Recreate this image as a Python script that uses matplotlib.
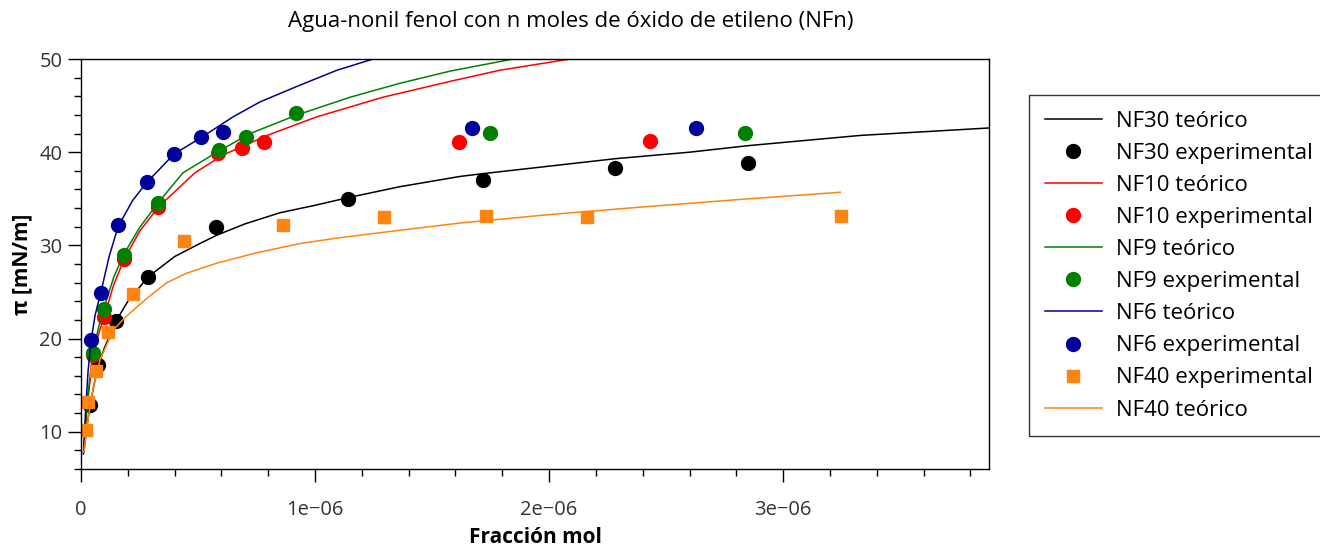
import matplotlib
matplotlib.use("Agg")
import matplotlib.pyplot as plt
from matplotlib.ticker import MultipleLocator, FuncFormatter

plt.rcParams['font.family'] = ['Open Sans', 'DejaVu Sans']

# fraccion mol en unidades de 1e-6
nf30_teo_x = [0.012, 0.025, 0.038, 0.055, 0.075, 0.1, 0.15, 0.2, 0.286, 0.4, 0.5, 0.581, 0.7, 0.85,
              1.0, 1.137, 1.363, 1.62, 1.718, 2.0, 2.282, 2.6, 2.85, 3.33, 3.88]
nf30_teo_y = [7.8, 10.5, 12.8, 15.0, 17.2, 19.0, 21.9, 24.0, 26.6, 28.8, 30.1, 31.1, 32.3, 33.5,
              34.3, 35.1, 36.3, 37.4, 37.7, 38.5, 39.3, 40.0, 40.7, 41.8, 42.6]
nf30_exp_x = [0.038, 0.073, 0.15, 0.286, 0.577, 1.141, 1.718, 2.282, 2.85]
nf30_exp_y = [12.9, 17.2, 21.9, 26.6, 32.0, 35.0, 37.0, 38.3, 38.8]

nf10_teo_x = [0.012, 0.025, 0.05, 0.075, 0.098, 0.14, 0.184, 0.25, 0.33, 0.487, 0.607, 0.795,
              1.008, 1.29, 1.577, 1.79, 2.09]
nf10_teo_y = [8.0, 12.5, 18.0, 20.5, 22.3, 25.8, 28.5, 31.5, 34.1, 37.8, 39.7, 41.8,
              43.8, 45.9, 47.6, 48.8, 50.0]
nf10_exp_x = [0.05, 0.098, 0.184, 0.33, 0.586, 0.687, 0.78, 1.615, 2.432]
nf10_exp_y = [18.2, 22.3, 28.5, 34.1, 39.9, 40.5, 41.1, 41.1, 41.2]

nf9_teo_x = [0.012, 0.025, 0.05, 0.075, 0.098, 0.14, 0.184, 0.25, 0.33, 0.436, 0.581, 0.722,
             0.923, 1.15, 1.363, 1.577, 1.846]
nf9_teo_y = [8.2, 13.0, 18.5, 21.2, 23.3, 26.6, 29.1, 31.9, 34.6, 37.8, 40.0, 42.0,
             44.0, 45.9, 47.4, 48.7, 50.0]
nf9_exp_x = [0.05, 0.098, 0.184, 0.33, 0.59, 0.705, 0.919, 1.748, 2.838]
nf9_exp_y = [18.4, 23.2, 29.0, 34.5, 40.2, 41.6, 44.2, 42.1, 42.1]

nf6_teo_x = [0.01, 0.02, 0.03, 0.043, 0.06, 0.085, 0.12, 0.158, 0.22, 0.282, 0.325, 0.397,
             0.509, 0.65, 0.765, 0.936, 1.094, 1.248]
nf6_teo_y = [7.6, 12.5, 16.5, 19.8, 22.5, 25.0, 28.8, 32.0, 34.8, 36.8, 37.9, 39.8,
             41.5, 43.8, 45.4, 47.2, 48.8, 50.0]
nf6_exp_x = [0.043, 0.085, 0.158, 0.282, 0.397, 0.513, 0.607, 1.671, 2.628]
nf6_exp_y = [19.8, 24.9, 32.2, 36.8, 39.8, 41.6, 42.2, 42.6, 42.6]

nf40_exp_x = [0.02, 0.03, 0.064, 0.115, 0.222, 0.44, 0.863, 1.296, 1.731, 2.162, 3.248]
nf40_exp_y = [10.2, 13.2, 16.5, 20.7, 24.8, 30.5, 32.2, 33.0, 33.1, 33.0, 33.1]
nf40_teo_x = [0.012, 0.025, 0.047, 0.081, 0.137, 0.19, 0.239, 0.3, 0.367, 0.45, 0.581, 0.75,
              0.936, 1.1, 1.29, 1.62, 2.0, 2.389, 2.8, 3.244]
nf40_teo_y = [7.8, 10.5, 14.1, 17.7, 20.9, 22.3, 23.4, 24.7, 26.0, 27.0, 28.1, 29.2,
              30.2, 30.8, 31.4, 32.4, 33.3, 34.1, 34.9, 35.7]

E = 1e-6
fig = plt.figure(figsize=(13.2, 5.5), dpi=100)
ax = fig.add_axes([0.0614, 0.1473, 0.6879, 0.7454])

ms = 10
lw = 1.1
ax.plot([x * E for x in nf30_teo_x], nf30_teo_y, color='black', lw=lw, label='NF30 teórico')
ax.plot([x * E for x in nf30_exp_x], nf30_exp_y, 'o', color='black', ms=ms, label='NF30 experimental')
ax.plot([x * E for x in nf10_teo_x], nf10_teo_y, color='#ff0000', lw=lw, label='NF10 teórico')
ax.plot([x * E for x in nf10_exp_x], nf10_exp_y, 'o', color='#ff0000', ms=ms, label='NF10 experimental')
ax.plot([x * E for x in nf9_teo_x], nf9_teo_y, color='#008000', lw=lw, label='NF9 teórico')
ax.plot([x * E for x in nf9_exp_x], nf9_exp_y, 'o', color='#008000', ms=ms, label='NF9 experimental')
ax.plot([x * E for x in nf6_teo_x], nf6_teo_y, color='#00008f', lw=lw, label='NF6 teórico')
ax.plot([x * E for x in nf6_exp_x], nf6_exp_y, 'o', color='#00009a', ms=ms, label='NF6 experimental')
ax.plot([x * E for x in nf40_exp_x], nf40_exp_y, 's', color='#ff8410', ms=8, label='NF40 experimental')
ax.plot([x * E for x in nf40_teo_x], nf40_teo_y, color='#ff8410', lw=lw, label='NF40 teórico')

ax.set_xlim(0, 3.88e-6)
ax.set_ylim(6, 50)
ax.xaxis.set_major_locator(MultipleLocator(1e-6))
ax.xaxis.set_minor_locator(MultipleLocator(0.2e-6))
ax.yaxis.set_major_locator(MultipleLocator(10))
ax.yaxis.set_minor_locator(MultipleLocator(2))
ax.xaxis.set_major_formatter(FuncFormatter(lambda v, p: '0' if abs(v) < 1e-12 else f'{v / E:.0f}e\u221206'))
ax.tick_params(which='major', direction='out', length=9.5, width=1, labelsize=14.5,
               colors='black', labelcolor='#333333')
ax.tick_params(which='minor', direction='out', length=5, width=1, colors='black')
ax.tick_params(axis='x', which='major', pad=13)
ax.tick_params(axis='y', which='major', pad=4)
ax.tick_params(top=False, right=False)
for s in ax.spines.values():
    s.set_linewidth(1.0)

ax.set_xlabel('Fracción mol', fontsize=15, fontweight='bold', labelpad=5)
ax.set_ylabel('π [mN/m]', fontsize=15, fontweight='bold', labelpad=5)
fig.text(0.4326, 1 - 22 / 550, 'Agua-nonil fenol con n moles de óxido de etileno (NFn)',
         ha='center', va='center', fontsize=16)

leg = ax.legend(loc='upper left', bbox_to_anchor=(1029 / 1320, 1 - 95 / 550),
                bbox_transform=fig.transFigure, fontsize=16, frameon=True,
                fancybox=False, edgecolor='black', handlelength=2.6,
                handletextpad=0.63, labelspacing=0.5, borderpad=0.7,
                borderaxespad=0)
leg.get_frame().set_linewidth(1.0)

fig.savefig('out.png', dpi=100)
